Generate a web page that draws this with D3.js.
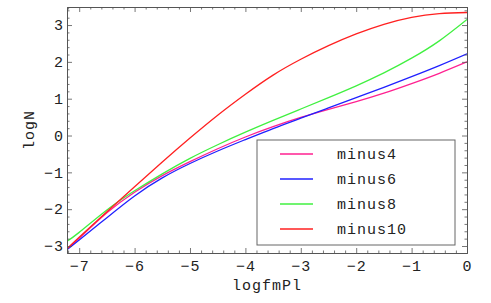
<!DOCTYPE html>
<html>
<head>
<meta charset="utf-8">
<script src="https://cdn.jsdelivr.net/npm/d3@7"></script>
<style>
  body { margin: 0; background: #fff; }
  text { font-family: "Liberation Mono", "DejaVu Sans Mono", monospace; fill: #222; letter-spacing: 1px; }
</style>
</head>
<body>
<div id="chart"></div>
<script>
// values (logfmPl -> logN)
const xs = [-7.21, -7, -6.5, -6, -5.5, -5, -4.5, -4, -3.5, -3, -2.5, -2, -1.5, -1, -0.5, 0];
const minus4  = [-3.07, -2.79, -2.10, -1.54, -1.09, -0.71, -0.36, -0.04, 0.24, 0.49, 0.71, 0.92, 1.15, 1.41, 1.69, 2.00];
const minus6  = [-3.09, -2.84, -2.23, -1.64, -1.15, -0.76, -0.42, -0.11, 0.19, 0.47, 0.75, 1.03, 1.31, 1.60, 1.90, 2.22];
const minus8  = [-2.86, -2.63, -2.02, -1.50, -1.04, -0.62, -0.25, 0.09, 0.41, 0.72, 1.03, 1.35, 1.70, 2.10, 2.57, 3.15];
const minus10 = [-3.06, -2.76, -2.07, -1.39, -0.72, -0.07, 0.55, 1.12, 1.64, 2.07, 2.44, 2.76, 3.02, 3.21, 3.31, 3.34];
const seriesNames = ["minus4", "minus6", "minus8", "minus10"];
const seriesColors = ["#ff2090", "#2020ff", "#40f040", "#ff2020"];
const xTicks = [-7, -6, -5, -4, -3, -2, -1, 0];
const yTicks = [-3, -2, -1, 0, 1, 2, 3];

const width = 491, height = 303;
const pLeft = 67, pRight = 467, pTop = 7, pBottom = 253;

const svg = d3.select("#chart").append("svg")
  .attr("width", width)
  .attr("height", height);

const x = d3.scaleLinear().domain([-7.22, 0]).range([pLeft, pRight]);
const y = d3.scaleLinear().domain([-3.19, 3.49]).range([pBottom, pTop]);

const allSeries = [minus4, minus6, minus8, minus10];

// curves
const line = d3.line()
  .x(d => x(d[0]))
  .y(d => y(d[1]))
  .curve(d3.curveNatural);

svg.append("clipPath").attr("id", "clip")
  .append("rect").attr("x", pLeft).attr("y", pTop).attr("width", pRight - pLeft).attr("height", pBottom - pTop);

svg.append("g").selectAll("path.curve")
  .data(allSeries)
  .enter().append("path")
  .attr("class", "curve")
  .attr("clip-path", "url(#clip)")
  .attr("d", s => line(xs.map((v, i) => [v, s[i]])))
  .attr("fill", "none")
  .attr("stroke", (s, i) => seriesColors[i])
  .attr("stroke-width", 1.3);

// frame with inward ticks on all four sides (Mathematica style)
const minorX = d3.range(-7.2, 0.001, 0.2).filter(v => Math.abs(v - Math.round(v)) > 0.01);
const minorY = d3.range(-3.0, 3.401, 0.2).filter(v => Math.abs(v - Math.round(v)) > 0.01);

function tickAxis(axisFn, scale, vals, size, labels) {
  return axisFn(scale).tickValues(vals).tickSizeInner(-size).tickSizeOuter(0)
    .tickFormat(labels ? (d => d < 0 ? "\u2212" + Math.abs(d) : d) : "");
}

function styleAxis(g) {
  g.select(".domain").attr("stroke", "#555").attr("stroke-width", 1);
  g.selectAll(".tick line").attr("stroke", "#555").attr("stroke-width", 0.8);
}

// bottom
svg.append("g").attr("transform", `translate(0,${pBottom})`)
  .call(tickAxis(d3.axisBottom, x, xTicks, 5, true)).call(styleAxis)
  .call(g => g.selectAll(".tick text").attr("y", 7).attr("font-size", 15)
    .style("font-family", "Liberation Mono").attr("fill", "#222"));
svg.append("g").attr("transform", `translate(0,${pBottom})`)
  .call(tickAxis(d3.axisBottom, x, minorX, 2.5, false)).call(styleAxis);
// top
svg.append("g").attr("transform", `translate(0,${pTop})`)
  .call(tickAxis(d3.axisTop, x, xTicks, 5, false)).call(styleAxis);
svg.append("g").attr("transform", `translate(0,${pTop})`)
  .call(tickAxis(d3.axisTop, x, minorX, 2.5, false)).call(styleAxis);
// left
svg.append("g").attr("transform", `translate(${pLeft},0)`)
  .call(tickAxis(d3.axisLeft, y, yTicks, 5, true)).call(styleAxis)
  .call(g => g.selectAll(".tick text").attr("x", -3).attr("font-size", 15)
    .style("font-family", "Liberation Mono").attr("fill", "#222"));
svg.append("g").attr("transform", `translate(${pLeft},0)`)
  .call(tickAxis(d3.axisLeft, y, minorY, 2.5, false)).call(styleAxis);
// right
svg.append("g").attr("transform", `translate(${pRight},0)`)
  .call(tickAxis(d3.axisRight, y, yTicks, 5, false)).call(styleAxis);
svg.append("g").attr("transform", `translate(${pRight},0)`)
  .call(tickAxis(d3.axisRight, y, minorY, 2.5, false)).call(styleAxis);

// axis titles
svg.append("text")
  .attr("x", 267).attr("y", 290)
  .attr("text-anchor", "middle")
  .style("font-size", "15px")
  .text("logfmPl");

svg.append("text")
  .attr("transform", "translate(34,130) rotate(-90)")
  .attr("text-anchor", "middle")
  .style("font-size", "15px")
  .text("logN");

// legend
const legend = svg.append("g");
legend.append("rect")
  .attr("x", 257).attr("y", 140)
  .attr("width", 198).attr("height", 105)
  .attr("fill", "#fff")
  .attr("stroke", "#666")
  .attr("stroke-width", 1);

const rowY = d3.scalePoint().domain(seriesNames).range([154, 229]);

legend.selectAll("line.key")
  .data(seriesNames)
  .enter().append("line")
  .attr("x1", 280).attr("x2", 313)
  .attr("y1", d => rowY(d)).attr("y2", d => rowY(d))
  .attr("stroke", (d, i) => seriesColors[i])
  .attr("stroke-width", 1.3);

legend.selectAll("text.key")
  .data(seriesNames)
  .enter().append("text")
  .attr("x", 337)
  .attr("y", d => rowY(d) + 5)
  .style("font-size", "15px")
  .text(d => d);
</script>
</body>
</html>
